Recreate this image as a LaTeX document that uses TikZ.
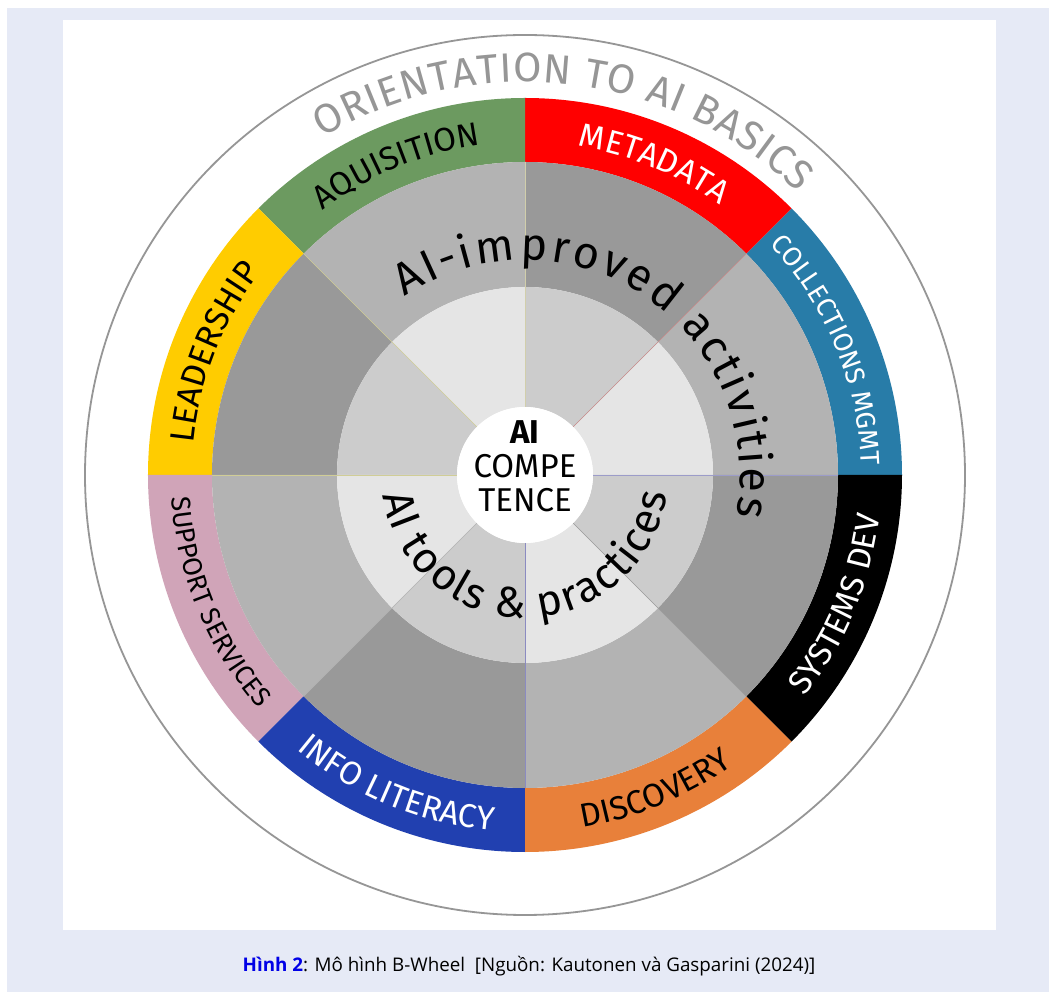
\documentclass[tikz,border=0pt]{standalone}
\usepackage{fontspec}
\setmainfont{Fira Sans}
\newfontfamily\captionfont{Open Sans}
\usepackage{tikz}
\usetikzlibrary{decorations.text}

\definecolor{pagebg}{RGB}{230,234,246}
\definecolor{rimgray}{RGB}{150,150,150}
\definecolor{acqgreen}{RGB}{108,154,96}
\definecolor{metared}{RGB}{255,0,0}
\definecolor{collblue}{RGB}{40,124,168}
\definecolor{discorange}{RGB}{232,128,58}
\definecolor{infoblue}{RGB}{33,64,176}
\definecolor{supppink}{RGB}{208,164,184}
\definecolor{leadyellow}{RGB}{255,204,0}
\definecolor{wedgelight}{RGB}{179,179,179}
\definecolor{wedgedark}{RGB}{153,153,153}
\definecolor{corelight}{RGB}{229,229,229}
\definecolor{coredark}{RGB}{204,204,204}
\definecolor{capblue}{RGB}{0,0,230}

% text on an arc: centre angle, radius, half span, format, text
\newcommand{\arctextcw}[5]{\path[decorate,decoration={text along path,text align=center,
  text format delimiters={|}{|},text={|#4|#5}}] (#1+#3:#2) arc[start angle=#1+#3,end angle=#1-#3,radius=#2];}
\newcommand{\arctextccw}[5]{\path[decorate,decoration={text along path,text align=center,
  text format delimiters={|}{|},text={|#4|#5}}] (#1-#3:#2) arc[start angle=#1-#3,end angle=#1+#3,radius=#2];}
% spread text over an arc: start angle, end angle, radius, node options, text
\newcommand{\spreadtext}[5]{\path[decorate,decoration={text effects along path,text={#5},
  text effects/.cd,text along path,fit text to path,characters={#4}}] (#1:#3) arc[start angle=#1,end angle=#2,radius=#3];}

\begin{document}
\begin{tikzpicture}[x=1pt,y=1pt]
				\tikzstyle{rim}=[draw=rimgray,line width=1.8pt]
				\tikzstyle{spoke}=[line width=0.7pt]
				\fill[white] (-525,-517) rectangle (524,475);
				\useasboundingbox (-525,-517) rectangle (524,475);
				\fill[pagebg] (-518,-517) rectangle (524,467);
				\fill[white] (-462,-455) rectangle (471,455);

				\draw[rim] (0,0) circle[radius=440];
				\foreach \a/\col in {0/collblue,45/metared,90/acqgreen,135/leadyellow,180/supppink,225/infoblue,270/discorange,315/black}
					\fill[\col] (\a:313) arc[start angle=\a,end angle=\a+45,radius=313] -- (\a+45:377) arc[start angle=\a+45,end angle=\a,radius=377] -- cycle;
				\foreach \a/\outer/\inner in {0/wedgelight/corelight,45/wedgedark/coredark,90/wedgelight/corelight,135/wedgedark/coredark,180/wedgelight/corelight,225/wedgedark/coredark,270/wedgelight/corelight,315/wedgedark/coredark}{
					\fill[\outer] (\a:188) arc[start angle=\a,end angle=\a+45,radius=188] -- (\a+45:313) arc[start angle=\a+45,end angle=\a,radius=313] -- cycle;
					\fill[\inner] (\a:68) arc[start angle=\a,end angle=\a+45,radius=68] -- (\a+45:188) arc[start angle=\a+45,end angle=\a,radius=188] -- cycle;
				}
				\foreach \a/\col in {0/gray!70!blue!60,45/red!35!gray!70,90/yellow!30!gray!60,135/yellow!40!gray!70,180/yellow!40!gray!70,225/gray!60,270/blue!30!gray!70,315/gray!80}
					\draw[spoke,\col] (\a:68) -- (\a:313);
				\fill[white] (0,0) circle[radius=68];
				\node[align=center,inner sep=0pt,font=\fontsize{33}{34}\selectfont] (core) at (0,9) {\textbf{AI}\\COMPE\\TENCE};

				\spreadtext{121}{46}{393}{font=\fontsize{41}{41}\selectfont,text=rimgray}{ORIENTATION TO AI BASICS}
				\arctextcw{22.5}{336}{30}{\fontsize{27}{27}\selectfont\color{white}}{COLLECTIONS MGMT}
				\arctextcw{67.5}{333}{30}{\fontsize{33}{33}\selectfont\color{white}}{METADATA}
				\arctextcw{112.5}{333}{30}{\fontsize{33}{33}\selectfont\color{black}}{AQUISITION}
				\arctextcw{158.5}{333}{30}{\fontsize{34}{34}\selectfont\color{black}}{LEADERSHIP}
				\arctextccw{202.5}{354}{30}{\fontsize{27}{27}\selectfont\color{black}}{SUPPORT SERVICES}
				\arctextccw{247.5}{357}{30}{\fontsize{33}{33}\selectfont\color{white}}{INFO LITERACY}
				\arctextccw{292.5}{357}{30}{\fontsize{33}{33}\selectfont\color{black}}{DISCOVERY}
				\arctextccw{337.5}{357}{30}{\fontsize{33}{33}\selectfont\color{white}}{SYSTEMS DEV}
				\spreadtext{124}{-11}{215}{font=\fontsize{45}{45}\selectfont,text=black}{AI-improved activities}
				\spreadtext{188}{352.5}{143}{font=\fontsize{43}{43}\selectfont,text=black}{AI tools {\&} practices}

				\node[font=\captionfont\fontsize{18.8}{19}\selectfont] (caption) at (4,-491) {\textcolor{capblue}{\textbf{Hình 2}}: Mô hình B-Wheel\ \ [Nguồn: Kautonen và Gasparini (2024)]};
\end{tikzpicture}
\end{document}
